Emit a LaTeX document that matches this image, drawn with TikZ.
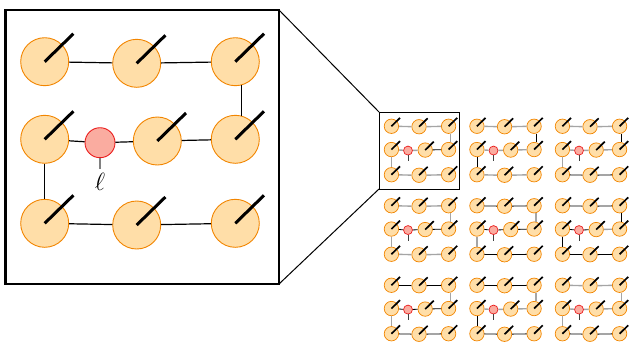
\documentclass[tikz,border=0pt]{standalone}
\definecolor{qfill}{RGB}{255,222,168}
\definecolor{qdraw}{RGB}{242,133,0}
\definecolor{lfill}{RGB}{250,172,160}
\definecolor{ldraw}{RGB}{235,30,30}
\definecolor{glink}{RGB}{165,165,165}
\tikzset{
  bigset/.style={
    qb/.style={circle, fill=qfill, draw=qdraw, inner sep=0pt, line width=0.9pt},
    lb/.style={circle, fill=lfill, draw=ldraw, inner sep=0pt, line width=0.9pt},
    ptr/.style={black, line width=3pt},
    stub/.style={gray, line width=1.4pt},
    kl/.style={black, line width=1.2pt},
    gl/.style={glink, line width=1.5pt}},
  smallset/.style={
    qb/.style={circle, fill=qfill, draw=qdraw, inner sep=0pt, line width=0.7pt},
    lb/.style={circle, fill=lfill, draw=ldraw, inner sep=0pt, line width=0.7pt},
    ptr/.style={black, line width=1.7pt},
    stub/.style={black!75, line width=0.9pt},
    kl/.style={black, line width=0.8pt},
    gl/.style={glink, line width=1.4pt}},
  frame/.style={draw=black, fill=none, inner sep=0pt, outer sep=0pt},
  zoomline/.style={black, line width=1pt}
}
% #1 prefix, #2 cx, #3 cy, #4 scale
\newcommand\mkgrid[4]{%
  \foreach \nm/\dx/\dy in {a/-95.3/-80.8, b/-3.3/-79.2, c/95.3/-80.8,
                           d/-95.3/-3.2, f/17.3/-1.5, g/95.3/-3.2,
                           h/-95.3/80.8, i/-3.3/82.5, j/95.3/80.8}{
    \node[qb, minimum size={48*#4}] (#1\nm) at ({#2+#4*\dx},{#3+#4*\dy}) {};
    \draw[ptr] (#1\nm.center) -- ++({28.7*#4},{-28*#4});
  }
  \node[lb, minimum size={30*#4}] (#1e) at ({#2-40*#4},{#3+0.2*#4}) {};
}
% #1 prefix, #2 list of nine link styles (braced list or macro)
\newcommand\mklinks[2]{%
  \foreach \st [count=\k] in #2{%
    \ifcase\k\or
      \draw[\st] (#1a) -- (#1b);\or
      \draw[\st] (#1b) -- (#1c);\or
      \draw[\st] (#1c.-75) -- (#1g.75);\or
      \draw[\st] (#1d) -- (#1e);\or
      \draw[\st] (#1e) -- (#1f);\or
      \draw[\st] (#1f) -- (#1g);\or
      \draw[\st] (#1d) -- (#1h);\or
      \draw[\st] (#1h) -- (#1i);\or
      \draw[\st] (#1i) -- (#1j);\fi
  }%
}
\begin{document}
\begin{tikzpicture}[x=1pt,y=-1pt]
  \useasboundingbox (0,0) rectangle (629,341);
  % frames and zoom lines
  \node[frame, line width=2.5pt, minimum width=273.5pt, minimum height=274pt] (bigbox) at (142.25,147) {};
  \node[frame, line width=0.9pt, minimum width=80pt, minimum height=77pt] (smallbox) at (419,150.5) {};
  \draw[zoomline] (bigbox.north east) -- (smallbox.north west);
  \draw[zoomline] (bigbox.south east) -- (smallbox.south west);
  % big grid
  \begin{scope}[bigset]
    \mkgrid{B}{140}{142.5}{1}
    \mklinks{B}{{kl,kl,kl,kl,kl,kl,kl,kl,kl}}
    \node[anchor=north, inner sep=0pt, font=\fontsize{24}{28}\selectfont] (lab) at (100,173.5) {$\ell$};
    \draw[stub, shorten >=4.5pt] (Be.south) -- (lab.north);
  \end{scope}
  % small grids
  \begin{scope}[smallset]
    \foreach \p/\cx/\cy/\links in {
      S1/420/150.5/{gl,gl,gl,gl,gl,kl,gl,gl,gl},
      S2/505.5/150.5/{gl,gl,kl,gl,gl,gl,kl,gl,gl},
      S3/591/150.5/{gl,gl,kl,gl,gl,gl,gl,kl,kl},
      S4/420/230/{gl,gl,gl,kl,kl,kl,gl,gl,gl},
      S5/505.5/230/{kl,kl,gl,kl,kl,kl,gl,kl,kl},
      S6/591/230/{kl,kl,kl,kl,kl,gl,kl,kl,kl},
      S7/420/309.5/{kl,kl,gl,kl,kl,kl,gl,kl,kl},
      S8/505.5/309.5/{kl,kl,gl,gl,gl,gl,kl,kl,kl},
      S9/591/309.5/{gl,gl,gl,gl,gl,gl,gl,kl,kl}}{
      \mkgrid{\p}{\cx}{\cy}{0.3}
      \mklinks{\p}{\links}
      \draw[stub] (\p e.south) -- ++(0,6);
    }
  \end{scope}
\end{tikzpicture}
\end{document}
